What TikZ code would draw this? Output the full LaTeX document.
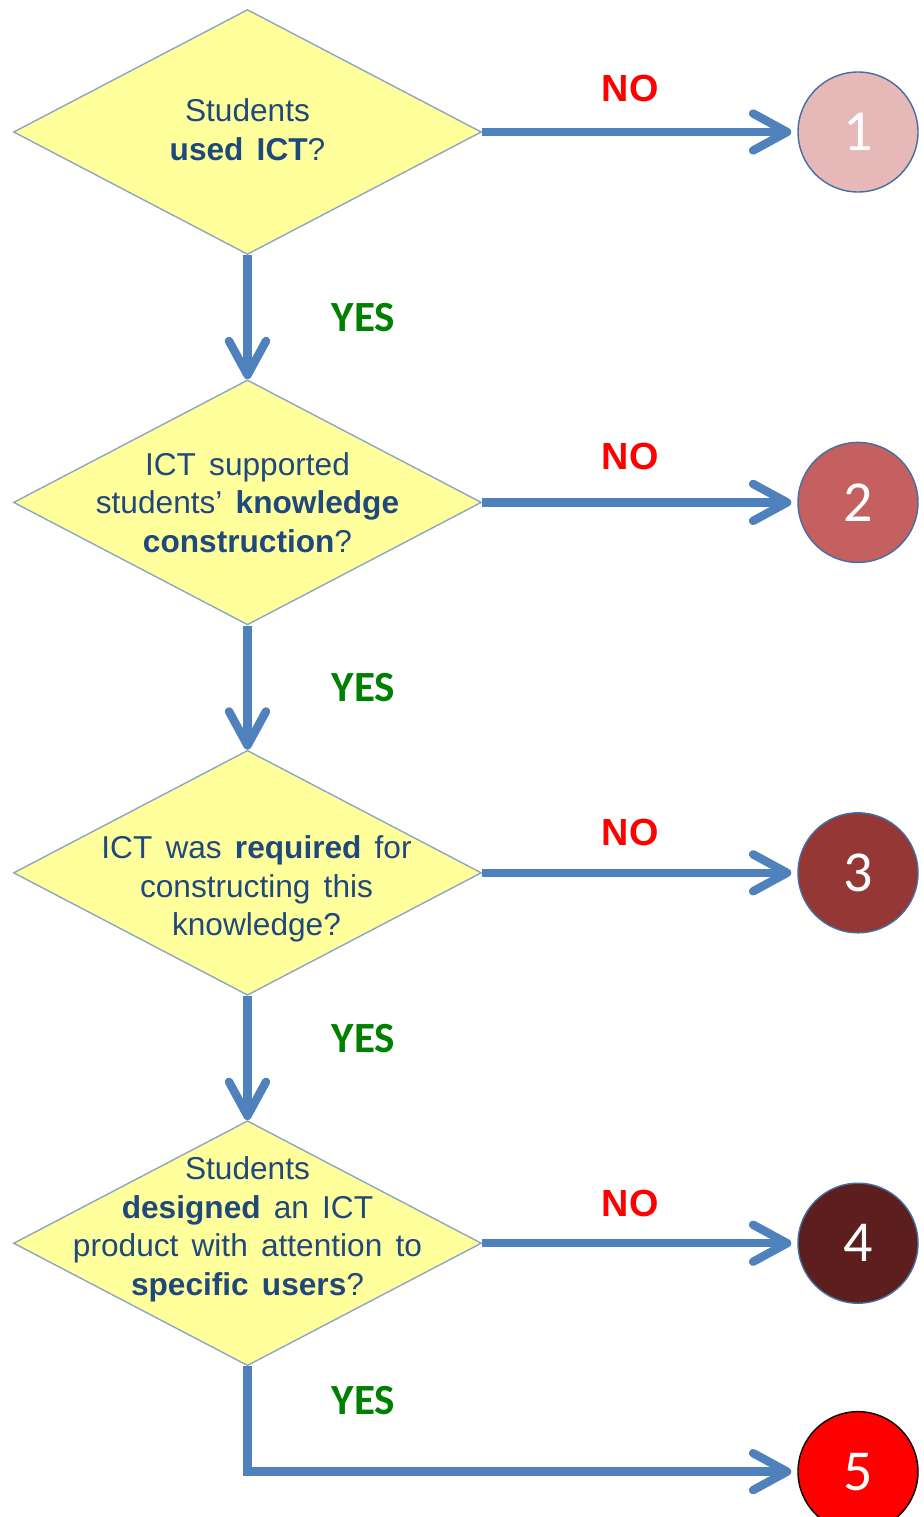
\documentclass[tikz,border=0pt]{standalone}
\usepackage{fontspec}
\setmainfont{Liberation Sans}
\newfontfamily\calibri{Carlito}
\newfontfamily\askfont[WordSpace=1.5]{Liberation Sans}
\usetikzlibrary{shapes.geometric,positioning,arrows.meta}

\definecolor{flowblue}{HTML}{4F81BD}
\definecolor{boxedge}{HTML}{8DA6C6}
\definecolor{boxfill}{HTML}{FFFF9C}
\definecolor{asktext}{HTML}{1F497D}
\definecolor{nored}{HTML}{FF0000}
\definecolor{yesgreen}{HTML}{008000}
\definecolor{lvlone}{HTML}{E6B9B8}
\definecolor{lvltwo}{HTML}{C4605F}
\definecolor{lvlthree}{HTML}{953735}
\definecolor{lvlfour}{HTML}{5C1F1E}
\definecolor{lvlfive}{HTML}{FF0000}

\begin{document}
\begin{tikzpicture}[
  ask/.style={diamond, draw=boxedge, fill=boxfill, line width=0.8pt,
    minimum width=9.36cm, minimum height=4.9cm, inner sep=0pt},
  asktxt/.style={align=center, text=asktext, inner sep=0pt,
    font=\askfont\fontsize{18}{22}\selectfont},
  level/.style={circle, draw=flowblue!85!black, line width=0.8pt,
    minimum size=2.4cm, inner sep=0pt, text=white,
    font=\calibri\fontsize{33}{33}\selectfont},
  flow/.style={draw=flowblue, line width=4.8pt,
    -{Straight Barb[length=0.68cm,width=0.74cm,round]}},
  nolab/.style={text=nored, inner sep=0pt,
    font=\bfseries\fontsize{21.5}{24}\selectfont},
  yeslab/.style={text=yesgreen, inner sep=0pt,
    font=\calibri\bfseries\fontsize{24.5}{26}\selectfont}
]
\useasboundingbox (0,0) rectangle (18.46,-30.34);

% questions
\node[ask, label={[asktxt, yshift=0.05cm]center:{Students\\\textbf{used ICT}?}}] (q1) at (4.95,-2.64) {};
\node[ask, below=2.48cm of q1,
  label={[asktxt]center:{ICT supported\\students’ \textbf{knowledge}\\\textbf{construction}?}}] (q2) {};
\node[ask, below=2.48cm of q2,
  label={[asktxt, xshift=0.18cm, yshift=-0.32cm]center:{ICT was \textbf{required} for\\constructing this\\knowledge?}}] (q3) {};
\node[ask, below=2.48cm of q3,
  label={[asktxt, yshift=0.28cm]center:{Students\\\textbf{designed} an ICT\\product with attention to\\\textbf{specific users}?}}] (q4) {};

% outcomes
\node[level, fill=lvlone] (r1) at (17.16,-2.64) {1};
\node[level, fill=lvltwo] (r2) at (r1 |- q2) {2};
\node[level, fill=lvlthree] (r3) at (r1 |- q3) {3};
\node[level, fill=lvlfour] (r4) at (r1 |- q4) {4};
\node[level, fill=lvlfive, draw=black, below=2.14cm of r4] (r5) {5};

% NO branches
\draw[flow, shorten >=0.12cm] (q1.east) -- node[nolab, pos=0.47, yshift=0.88cm] {NO} (r1.west);
\draw[flow, shorten >=0.12cm] (q2.east) -- node[nolab, pos=0.47, yshift=0.92cm] {NO} (r2.west);
\draw[flow, shorten >=0.12cm] (q3.east) -- node[nolab, pos=0.47, yshift=0.8cm] {NO} (r3.west);
\draw[flow, shorten >=0.12cm] (q4.east) -- node[nolab, pos=0.47, yshift=0.8cm] {NO} (r4.west);

% YES branches
\draw[flow] (q1.south) -- node[yeslab, xshift=2.32cm] {YES} (q2.north);
\draw[flow] (q2.south) -- node[yeslab, xshift=2.32cm] {YES} (q3.north);
\draw[flow] (q3.south) -- node[yeslab, xshift=2.32cm, yshift=0.38cm] {YES} (q4.north);
\draw[flow, shorten >=0.12cm] (q4.south) |- node[yeslab, pos=0.16, xshift=2.32cm] {YES} (r5.west);

\end{tikzpicture}
\end{document}
